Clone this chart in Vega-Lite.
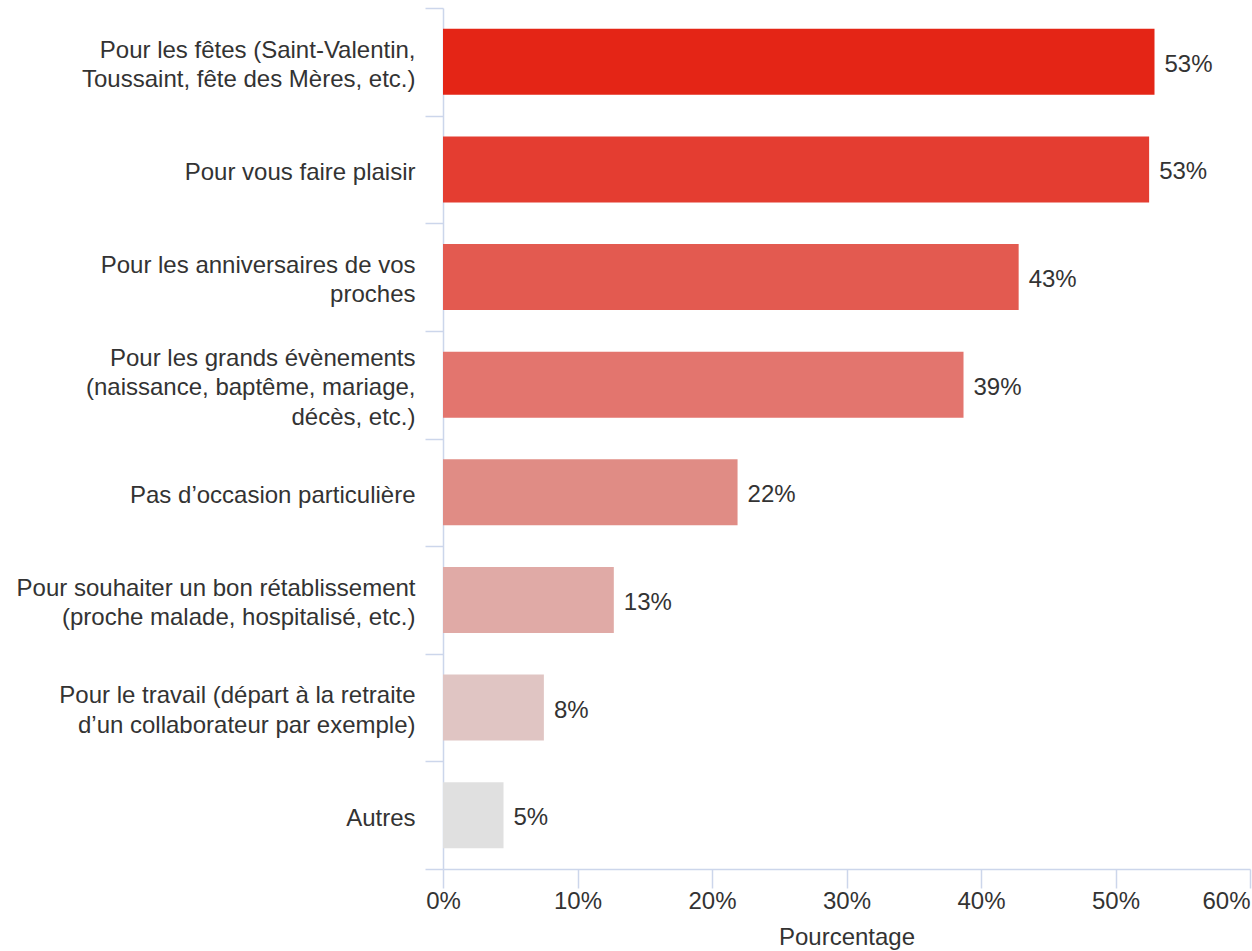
{
  "$schema": "https://vega.github.io/schema/vega-lite/v6.json",
  "autosize": "none",
  "width": 807,
  "height": 861,
  "padding": {"left": 443, "top": 8, "right": 2, "bottom": 82},
  "background": "white",
  "config": {
    "view": {"stroke": null},
    "font": "Liberation Sans",
    "text": {"font": "Liberation Sans"}
  },
  "data": {
    "values": [
      {"label": "Pour les fêtes (Saint-Valentin,|Toussaint, fête des Mères, etc.)", "value": 0.529},
      {"label": "Pour vous faire plaisir", "value": 0.525},
      {"label": "Pour les anniversaires de vos|proches", "value": 0.428},
      {"label": "Pour les grands évènements|(naissance, baptême, mariage,|décès, etc.)", "value": 0.387},
      {"label": "Pas d’occasion particulière", "value": 0.219},
      {"label": "Pour souhaiter un bon rétablissement|(proche malade, hospitalisé, etc.)", "value": 0.127},
      {"label": "Pour le travail (départ à la retraite|d’un collaborateur par exemple)", "value": 0.075},
      {"label": "Autres", "value": 0.045}
    ]
  },
  "encoding": {
    "y": {
      "field": "label",
      "type": "nominal",
      "sort": null,
      "scale": {"paddingInner": 0, "paddingOuter": 0},
      "axis": {
        "title": null,
        "labelExpr": "split(datum.label, '|')",
        "labelFont": "Liberation Sans",
        "labelFontSize": 24,
        "labelColor": "#333333",
        "labelLineHeight": 29.5,
        "labelPadding": 10,
        "labelLimit": 440,
        "labelBaseline": "middle",
        "labelOffset": {
          "condition": [
            {"test": "length(split(datum.value, '|')) == 3", "value": -26.5},
            {"test": "length(split(datum.value, '|')) == 2", "value": -11.75}
          ],
          "value": 3
        },
        "tickBand": "extent",
        "tickSize": 18,
        "tickColor": "#ccd6eb",
        "domainColor": "#ccd6eb",
        "tickWidth": 1.5,
        "domainWidth": 1.5,
        "grid": false
      }
    },
    "x": {
      "field": "value",
      "type": "quantitative",
      "scale": {"domain": [0, 0.6], "nice": false},
      "axis": {
        "title": "Pourcentage",
        "format": ".0%",
        "values": [0, 0.1, 0.2, 0.3, 0.4, 0.5, 0.6],
        "grid": false,
        "labelFont": "Liberation Sans",
        "labelFontSize": 24,
        "labelColor": "#333333",
        "labelPadding": 1,
        "labelAlign": {"condition": {"test": "datum.value >= 0.6", "value": "right"}, "value": "center"},
        "tickSize": 19,
        "tickColor": "#ccd6eb",
        "domainColor": "#ccd6eb",
        "tickWidth": 1.5,
        "domainWidth": 1.5,
        "titleFont": "Liberation Sans",
        "titleFontSize": 24,
        "titleFontWeight": "normal",
        "titleColor": "#333333",
        "titlePadding": 12,
        "labelFlush": false,
        "labelOverlap": false
      }
    }
  },
  "layer": [
    {
      "mark": {"type": "bar", "height": {"band": 0.613}},
      "encoding": {
        "color": {
          "field": "label",
          "type": "nominal",
          "legend": null,
          "scale": {
            "domain": [
              "Pour les fêtes (Saint-Valentin,|Toussaint, fête des Mères, etc.)",
              "Pour vous faire plaisir",
              "Pour les anniversaires de vos|proches",
              "Pour les grands évènements|(naissance, baptême, mariage,|décès, etc.)",
              "Pas d’occasion particulière",
              "Pour souhaiter un bon rétablissement|(proche malade, hospitalisé, etc.)",
              "Pour le travail (départ à la retraite|d’un collaborateur par exemple)",
              "Autres"
            ],
            "range": ["#e42516", "#e43d31", "#e35a50", "#e3756e", "#e08c85", "#e0aaa6", "#e0c5c3", "#e0e0e0"]
          }
        }
      }
    },
    {
      "mark": {"type": "text", "align": "left", "baseline": "middle", "dx": 10, "dy": 3, "fontSize": 24, "color": "#333333", "font": "Liberation Sans"},
      "encoding": {
        "text": {"field": "value", "type": "quantitative", "format": ".0%"}
      }
    }
  ]
}
